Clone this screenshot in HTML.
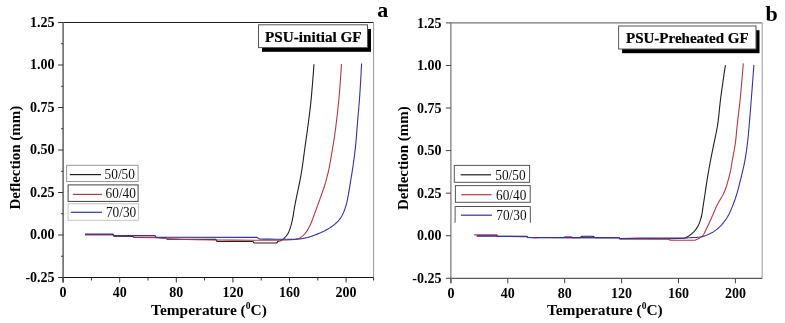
<!DOCTYPE html>
<html><head><meta charset="utf-8"><style>
html,body{margin:0;padding:0;background:#fff;width:785px;height:323px;overflow:hidden}
svg{display:block;font-family:"Liberation Serif", serif;will-change:transform}
</style></head><body>
<svg width="785" height="323" viewBox="0 0 785 323">
<rect width="785" height="323" fill="#fff"/>
<line x1="63.1" y1="22.5" x2="373.6" y2="22.5" stroke="#222" stroke-width="1"/>
<line x1="373.6" y1="22.5" x2="373.6" y2="277.5" stroke="#999" stroke-width="1"/>
<line x1="63.1" y1="277.5" x2="373.6" y2="277.5" stroke="#111" stroke-width="1"/>
<line x1="63.1" y1="22" x2="63.1" y2="282.5" stroke="#555" stroke-width="1.4"/>
<line x1="58.1" y1="22.5" x2="63.1" y2="22.5" stroke="#333" stroke-width="1"/>
<text x="54.6" y="26.5" font-size="14" font-weight="bold" text-anchor="end" fill="#000" >1.25</text>
<line x1="61.1" y1="43.75" x2="63.1" y2="43.75" stroke="#333" stroke-width="1"/>
<line x1="58.1" y1="65" x2="63.1" y2="65" stroke="#333" stroke-width="1"/>
<text x="54.6" y="69" font-size="14" font-weight="bold" text-anchor="end" fill="#000" >1.00</text>
<line x1="61.1" y1="86.25" x2="63.1" y2="86.25" stroke="#333" stroke-width="1"/>
<line x1="58.1" y1="107.5" x2="63.1" y2="107.5" stroke="#333" stroke-width="1"/>
<text x="54.6" y="111.5" font-size="14" font-weight="bold" text-anchor="end" fill="#000" >0.75</text>
<line x1="61.1" y1="128.75" x2="63.1" y2="128.75" stroke="#333" stroke-width="1"/>
<line x1="58.1" y1="150" x2="63.1" y2="150" stroke="#333" stroke-width="1"/>
<text x="54.6" y="154" font-size="14" font-weight="bold" text-anchor="end" fill="#000" >0.50</text>
<line x1="61.1" y1="171.25" x2="63.1" y2="171.25" stroke="#333" stroke-width="1"/>
<line x1="58.1" y1="192.5" x2="63.1" y2="192.5" stroke="#333" stroke-width="1"/>
<text x="54.6" y="196.5" font-size="14" font-weight="bold" text-anchor="end" fill="#000" >0.25</text>
<line x1="61.1" y1="213.75" x2="63.1" y2="213.75" stroke="#333" stroke-width="1"/>
<line x1="58.1" y1="235" x2="63.1" y2="235" stroke="#333" stroke-width="1"/>
<text x="54.6" y="239" font-size="14" font-weight="bold" text-anchor="end" fill="#000" >0.00</text>
<line x1="61.1" y1="256.25" x2="63.1" y2="256.25" stroke="#333" stroke-width="1"/>
<line x1="58.1" y1="277.5" x2="63.1" y2="277.5" stroke="#333" stroke-width="1"/>
<text x="54.6" y="281.5" font-size="14" font-weight="bold" text-anchor="end" fill="#000" >-0.25</text>
<line x1="63.1" y1="277.5" x2="63.1" y2="282.5" stroke="#333" stroke-width="1"/>
<text x="63.1" y="297" font-size="14" font-weight="bold" text-anchor="middle" fill="#000" >0</text>
<line x1="91.4" y1="277.5" x2="91.4" y2="280.5" stroke="#333" stroke-width="1"/>
<line x1="119.7" y1="277.5" x2="119.7" y2="282.5" stroke="#333" stroke-width="1"/>
<text x="119.7" y="297" font-size="14" font-weight="bold" text-anchor="middle" fill="#000" >40</text>
<line x1="148" y1="277.5" x2="148" y2="280.5" stroke="#333" stroke-width="1"/>
<line x1="176.3" y1="277.5" x2="176.3" y2="282.5" stroke="#333" stroke-width="1"/>
<text x="176.3" y="297" font-size="14" font-weight="bold" text-anchor="middle" fill="#000" >80</text>
<line x1="204.6" y1="277.5" x2="204.6" y2="280.5" stroke="#333" stroke-width="1"/>
<line x1="232.9" y1="277.5" x2="232.9" y2="282.5" stroke="#333" stroke-width="1"/>
<text x="232.9" y="297" font-size="14" font-weight="bold" text-anchor="middle" fill="#000" >120</text>
<line x1="261.2" y1="277.5" x2="261.2" y2="280.5" stroke="#333" stroke-width="1"/>
<line x1="289.5" y1="277.5" x2="289.5" y2="282.5" stroke="#333" stroke-width="1"/>
<text x="289.5" y="297" font-size="14" font-weight="bold" text-anchor="middle" fill="#000" >160</text>
<line x1="317.8" y1="277.5" x2="317.8" y2="280.5" stroke="#333" stroke-width="1"/>
<line x1="346.1" y1="277.5" x2="346.1" y2="282.5" stroke="#333" stroke-width="1"/>
<text x="346.1" y="297" font-size="14" font-weight="bold" text-anchor="middle" fill="#000" >200</text>
<line x1="373.6" y1="277.5" x2="373.6" y2="280.5" stroke="#333" stroke-width="1"/>
<text x="151" y="314.9" font-size="15.45" font-weight="bold" text-anchor="start" fill="#000" >Temperature (<tspan font-size="9.5" dy="-6">0</tspan><tspan dy="6">C)</tspan></text>
<text transform="translate(20.4,209.5) rotate(-90)" font-size="15" font-weight="bold" text-anchor="start">Deflection (mm)</text>
<rect x="262" y="29" width="109" height="22.8" fill="#000"/>
<rect x="258.5" y="24.8" width="109" height="22.8" fill="#fff" stroke="#555" stroke-width="1"/>
<text x="265" y="41.5" font-size="15.2" font-weight="bold" text-anchor="start" fill="#000" stroke="#000" stroke-width="0.2">PSU-initial GF</text>
<text x="377.3" y="16.7" font-size="22" font-weight="bold" text-anchor="start" fill="#000" >a</text>
<rect x="66.6" y="165.3" width="71.5" height="16.2" fill="#fff" stroke="#999" stroke-width="1"/>
<line x1="69.8" y1="174.6" x2="101" y2="174.6" stroke="#202020" stroke-width="1.2"/>
<text transform="translate(104.6,179.1) scale(1,1.13)" font-size="13.3" fill="#111">50/50</text>
<rect x="68.1" y="184.9" width="70" height="16.5" fill="#fff" stroke="#444" stroke-width="1"/>
<line x1="72.8" y1="194.4" x2="102" y2="194.4" stroke="#b23a46" stroke-width="1.2"/>
<text transform="translate(105.6,198.2) scale(1,1.13)" font-size="13.3" fill="#111">60/40</text>
<rect x="68.1" y="203.8" width="70.5" height="16.5" fill="#fff" stroke="#c4c4c4" stroke-width="1"/>
<line x1="70.9" y1="212.3" x2="102" y2="212.3" stroke="#35339e" stroke-width="1.2"/>
<text transform="translate(105.9,217.4) scale(1,1.13)" font-size="13.3" fill="#111">70/30</text>
<polyline points="85,234.6 113,234.6 114,236.2 133,236.4 134,237.4 166,237.8 167,239.2 216,239.4 217,241.5 253,241.5 254,243 276.8,243 278.09,241.19 278.33,241.17 278.69,241.13 279.13,241.07 279.61,240.99 280.11,240.89 280.58,240.76 281,240.6 281.47,240.36 281.94,240.07 282.42,239.73 282.89,239.37 283.36,238.97 283.82,238.56 284.27,238.13 284.7,237.7 285.15,237.23 285.6,236.74 286.03,236.24 286.45,235.71 286.86,235.16 287.26,234.6 287.64,234.01 288,233.4 288.39,232.68 288.75,231.92 289.1,231.14 289.42,230.33 289.73,229.5 290.03,228.64 290.32,227.78 290.6,226.9 290.91,225.89 291.2,224.85 291.47,223.79 291.73,222.7 291.98,221.6 292.23,220.48 292.47,219.35 292.7,218.2 292.95,216.91 293.18,215.59 293.4,214.24 293.62,212.88 293.83,211.5 294.04,210.13 294.26,208.76 294.5,207.4 294.74,206.07 294.98,204.78 295.23,203.51 295.48,202.23 295.74,200.92 296.01,199.56 296.3,198.13 296.6,196.6 297.08,194.27 297.61,191.76 298.17,189.12 298.76,186.37 299.35,183.55 299.93,180.69 300.49,177.83 301,175 301.5,172.02 301.96,169.06 302.4,166.09 302.83,163.09 303.25,160 303.68,156.82 304.12,153.49 304.6,150 305.3,144.95 306.06,139.54 306.86,133.85 307.67,127.98 308.47,122.03 309.24,116.09 309.96,110.25 310.6,104.6 311.18,98.89 311.76,92.45 312.33,85.74 312.86,79.21 313.32,73.33 313.68,68.57 313.92,65.37 314,64.2" fill="none" stroke="#202020" stroke-width="1.1" stroke-linejoin="round" />
<polyline points="85,234.6 113,234.6 114,235.9 133,236 134,237.3 155,237.4 165,238.5 185.38,239.57 197.02,239.75 213.7,239.96 233.21,240.15 253.31,240.25 271.79,240.2 286.43,239.94 295,239.4 295.9,239.26 296.64,239.13 297.26,238.99 297.79,238.85 298.26,238.68 298.71,238.49 299.18,238.27 299.7,238 300.31,237.65 300.92,237.26 301.52,236.82 302.11,236.35 302.69,235.86 303.24,235.35 303.78,234.82 304.3,234.3 304.78,233.78 305.24,233.25 305.67,232.71 306.09,232.15 306.5,231.57 306.9,230.97 307.3,230.35 307.7,229.7 308.19,228.87 308.67,228 309.14,227.09 309.61,226.14 310.07,225.18 310.52,224.19 310.96,223.2 311.4,222.2 311.86,221.09 312.32,219.96 312.76,218.8 313.19,217.62 313.62,216.44 314.04,215.25 314.47,214.07 314.9,212.9 315.33,211.74 315.76,210.58 316.19,209.41 316.61,208.25 317.04,207.09 317.46,205.93 317.88,204.76 318.3,203.6 318.72,202.44 319.13,201.28 319.55,200.11 319.96,198.95 320.37,197.79 320.78,196.63 321.19,195.46 321.6,194.3 322.01,193.15 322.41,192.03 322.81,190.92 323.21,189.8 323.61,188.66 324.01,187.49 324.4,186.28 324.8,185 325.3,183.32 325.8,181.56 326.3,179.75 326.8,177.88 327.29,175.96 327.78,174 328.25,172.01 328.7,170 329.2,167.64 329.68,165.21 330.14,162.72 330.59,160.19 331.03,157.64 331.46,155.07 331.88,152.52 332.3,150 332.71,147.54 333.11,145.14 333.5,142.76 333.89,140.36 334.27,137.92 334.65,135.41 335.02,132.78 335.4,130 335.91,126.04 336.43,121.8 336.95,117.35 337.46,112.77 337.96,108.13 338.44,103.51 338.89,98.97 339.3,94.6 339.67,90.25 340.05,85.36 340.42,80.28 340.76,75.34 341.06,70.9 341.29,67.3 341.44,64.88 341.5,64" fill="none" stroke="#b23a46" stroke-width="1.1" stroke-linejoin="round" />
<polyline points="85,234.1 113,234.1 114,235.6 155,235.6 156,237.3 257,237.4 259.48,239.03 263.46,239.09 269.22,239.16 276.06,239.23 283.27,239.26 290.13,239.23 295.94,239.12 300,238.9 301.07,238.79 301.98,238.67 302.79,238.54 303.51,238.4 304.2,238.25 304.88,238.08 305.6,237.9 306.4,237.7 307.4,237.45 308.41,237.17 309.44,236.88 310.49,236.57 311.55,236.23 312.63,235.88 313.71,235.5 314.8,235.1 316.06,234.62 317.35,234.12 318.65,233.59 319.97,233.03 321.29,232.45 322.61,231.83 323.91,231.18 325.2,230.5 326.56,229.74 327.95,228.94 329.35,228.1 330.73,227.22 332.07,226.32 333.36,225.4 334.58,224.45 335.7,223.5 336.57,222.69 337.39,221.88 338.16,221.05 338.89,220.21 339.58,219.35 340.24,218.44 340.88,217.5 341.5,216.5 342.19,215.28 342.83,213.98 343.45,212.61 344.03,211.2 344.57,209.77 345.08,208.33 345.56,206.9 346,205.5 346.38,204.2 346.72,202.91 347.02,201.63 347.29,200.35 347.54,199.05 347.79,197.73 348.04,196.38 348.3,195 348.6,193.37 348.9,191.68 349.19,189.95 349.48,188.2 349.76,186.43 350.04,184.67 350.32,182.92 350.6,181.2 350.87,179.58 351.13,178 351.39,176.44 351.65,174.88 351.91,173.3 352.17,171.67 352.44,169.98 352.7,168.2 353.05,165.76 353.42,163.19 353.79,160.5 354.16,157.75 354.52,154.95 354.87,152.13 355.2,149.34 355.5,146.6 355.77,143.93 356.01,141.29 356.24,138.67 356.44,136.03 356.65,133.37 356.85,130.66 357.07,127.88 357.3,125 357.6,121.45 357.91,117.77 358.24,114 358.57,110.15 358.9,106.26 359.22,102.35 359.52,98.45 359.8,94.6 360.08,90.31 360.39,85.39 360.69,80.23 360.97,75.19 361.22,70.62 361.42,66.91 361.55,64.41 361.6,63.5" fill="none" stroke="#35339e" stroke-width="1.1" stroke-linejoin="round" />
<line x1="450.9" y1="22.9" x2="762.2" y2="22.9" stroke="#777" stroke-width="1.4"/>
<line x1="762.2" y1="22.9" x2="762.2" y2="278.3" stroke="#999" stroke-width="1"/>
<line x1="450.9" y1="278.3" x2="762.2" y2="278.3" stroke="#333" stroke-width="1"/>
<line x1="450.9" y1="22.4" x2="450.9" y2="283.3" stroke="#888" stroke-width="1.4"/>
<line x1="445.9" y1="22.9" x2="450.9" y2="22.9" stroke="#444" stroke-width="1"/>
<text x="441.4" y="27.5" font-size="14" font-weight="bold" text-anchor="end" fill="#000" >1.25</text>
<line x1="445.9" y1="65.47" x2="450.9" y2="65.47" stroke="#444" stroke-width="1"/>
<text x="441.4" y="70.07" font-size="14" font-weight="bold" text-anchor="end" fill="#000" >1.00</text>
<line x1="445.9" y1="108.03" x2="450.9" y2="108.03" stroke="#444" stroke-width="1"/>
<text x="441.4" y="112.63" font-size="14" font-weight="bold" text-anchor="end" fill="#000" >0.75</text>
<line x1="445.9" y1="150.6" x2="450.9" y2="150.6" stroke="#444" stroke-width="1"/>
<text x="441.4" y="155.2" font-size="14" font-weight="bold" text-anchor="end" fill="#000" >0.50</text>
<line x1="445.9" y1="193.17" x2="450.9" y2="193.17" stroke="#444" stroke-width="1"/>
<text x="441.4" y="197.77" font-size="14" font-weight="bold" text-anchor="end" fill="#000" >0.25</text>
<line x1="445.9" y1="235.73" x2="450.9" y2="235.73" stroke="#444" stroke-width="1"/>
<text x="441.4" y="240.33" font-size="14" font-weight="bold" text-anchor="end" fill="#000" >0.00</text>
<line x1="445.9" y1="278.3" x2="450.9" y2="278.3" stroke="#444" stroke-width="1"/>
<text x="441.4" y="282.9" font-size="14" font-weight="bold" text-anchor="end" fill="#000" >-0.25</text>
<line x1="450.9" y1="278.3" x2="450.9" y2="283.3" stroke="#444" stroke-width="1"/>
<text x="450.9" y="297.8" font-size="14" font-weight="bold" text-anchor="middle" fill="#000" >0</text>
<line x1="507.8" y1="278.3" x2="507.8" y2="283.3" stroke="#444" stroke-width="1"/>
<text x="507.8" y="297.8" font-size="14" font-weight="bold" text-anchor="middle" fill="#000" >40</text>
<line x1="564.7" y1="278.3" x2="564.7" y2="283.3" stroke="#444" stroke-width="1"/>
<text x="564.7" y="297.8" font-size="14" font-weight="bold" text-anchor="middle" fill="#000" >80</text>
<line x1="621.6" y1="278.3" x2="621.6" y2="283.3" stroke="#444" stroke-width="1"/>
<text x="621.6" y="297.8" font-size="14" font-weight="bold" text-anchor="middle" fill="#000" >120</text>
<line x1="678.5" y1="278.3" x2="678.5" y2="283.3" stroke="#444" stroke-width="1"/>
<text x="678.5" y="297.8" font-size="14" font-weight="bold" text-anchor="middle" fill="#000" >160</text>
<line x1="735.4" y1="278.3" x2="735.4" y2="283.3" stroke="#444" stroke-width="1"/>
<text x="735.4" y="297.8" font-size="14" font-weight="bold" text-anchor="middle" fill="#000" >200</text>
<text x="546.9" y="314.9" font-size="15.45" font-weight="bold" text-anchor="start" fill="#000" >Temperature (<tspan font-size="9.5" dy="-6">0</tspan><tspan dy="6">C)</tspan></text>
<text transform="translate(408.2,210) rotate(-90)" font-size="15" font-weight="bold" text-anchor="start">Deflection (mm)</text>
<rect x="622.1" y="30.2" width="137.4" height="23" fill="#000"/>
<rect x="618.6" y="26" width="137.4" height="23" fill="#fff" stroke="#555" stroke-width="1"/>
<text x="626" y="43.3" font-size="15" font-weight="bold" text-anchor="start" fill="#000" stroke="#000" stroke-width="0.2">PSU-Preheated GF</text>
<text x="765.5" y="21.2" font-size="22" font-weight="bold" text-anchor="start" fill="#000" >b</text>
<rect x="454.3" y="165.4" width="75.3" height="16.9" fill="#fff" stroke="#555" stroke-width="1"/>
<line x1="460.6" y1="174.8" x2="491" y2="174.8" stroke="#202020" stroke-width="1.2"/>
<text transform="translate(495.3,180) scale(1,1.13)" font-size="13.3" fill="#111">50/50</text>
<rect x="455.4" y="185.6" width="74.8" height="16.7" fill="#fff" stroke="#555" stroke-width="1"/>
<line x1="461.3" y1="194.7" x2="491.6" y2="194.7" stroke="#b23a46" stroke-width="1.2"/>
<text transform="translate(496,199.9) scale(1,1.13)" font-size="13.3" fill="#111">60/40</text>
<polyline points="455.1,222.7 455.1,206.5 530.3,206.5 530.3,222.7" fill="none" stroke="#555" stroke-width="1"/>
<line x1="461" y1="215.2" x2="492" y2="215.2" stroke="#35339e" stroke-width="1.2"/>
<text transform="translate(496.3,220.1) scale(1,1.13)" font-size="13.3" fill="#111">70/30</text>
<polyline points="476.5,236 497,236 498,236.5 527,236.6 528,237.5 580,237.6 581.5,236.3 593,236.3 595,237.6 619,237.7 620,238.8 670,238.7 684.08,238.27 684.29,238.19 684.6,238.07 684.98,237.91 685.4,237.74 685.83,237.56 686.24,237.37 686.6,237.2 686.94,237.03 687.27,236.86 687.59,236.68 687.92,236.49 688.25,236.3 688.59,236.08 688.94,235.85 689.3,235.6 689.84,235.21 690.42,234.78 691.02,234.31 691.64,233.81 692.25,233.29 692.86,232.74 693.45,232.18 694,231.6 694.57,230.96 695.12,230.3 695.66,229.62 696.19,228.92 696.69,228.18 697.18,227.42 697.65,226.63 698.1,225.8 698.6,224.77 699.08,223.69 699.52,222.56 699.95,221.4 700.34,220.2 700.72,218.98 701.07,217.74 701.4,216.5 701.72,215.12 702,213.71 702.25,212.26 702.47,210.8 702.67,209.32 702.87,207.84 703.08,206.36 703.3,204.9 703.53,203.45 703.76,201.98 703.99,200.52 704.22,199.06 704.44,197.6 704.67,196.15 704.89,194.72 705.1,193.3 705.29,192.01 705.47,190.77 705.64,189.55 705.81,188.33 705.98,187.1 706.17,185.81 706.37,184.45 706.6,183 706.97,180.74 707.37,178.28 707.81,175.67 708.27,172.97 708.75,170.23 709.24,167.48 709.72,164.79 710.2,162.2 710.65,159.82 711.11,157.47 711.57,155.15 712.03,152.83 712.5,150.53 712.97,148.22 713.44,145.92 713.9,143.6 714.37,141.3 714.85,139.03 715.33,136.78 715.81,134.52 716.29,132.24 716.75,129.9 717.19,127.5 717.6,125 718.05,121.89 718.45,118.67 718.82,115.37 719.17,111.98 719.52,108.54 719.88,105.05 720.27,101.53 720.7,98 721.29,93.6 722,88.48 722.78,83.05 723.55,77.7 724.27,72.83 724.85,68.86 725.25,66.18 725.4,65.2" fill="none" stroke="#202020" stroke-width="1.1" stroke-linejoin="round" />
<polyline points="474.2,234.9 497,234.9 498,236.3 527,236.5 528,237.4 564,237.5 565,236.7 571.5,236.7 572.5,237.6 619,237.8 620,239 669,239.1 670,240.2 695,240.2 697.59,238.96 697.84,238.83 698.21,238.65 698.66,238.42 699.15,238.17 699.65,237.9 700.11,237.64 700.5,237.4 700.81,237.2 701.12,237 701.41,236.8 701.7,236.6 701.99,236.38 702.27,236.14 702.54,235.89 702.8,235.6 703.12,235.2 703.42,234.76 703.71,234.28 703.99,233.77 704.26,233.25 704.54,232.7 704.81,232.15 705.1,231.6 705.44,230.94 705.78,230.26 706.12,229.57 706.46,228.86 706.81,228.13 707.16,227.38 707.53,226.6 707.9,225.8 708.39,224.75 708.89,223.66 709.4,222.52 709.93,221.35 710.47,220.16 711.01,218.95 711.55,217.73 712.1,216.5 712.71,215.11 713.32,213.69 713.93,212.23 714.55,210.76 715.18,209.29 715.83,207.81 716.5,206.35 717.2,204.9 717.97,203.43 718.8,201.94 719.67,200.46 720.56,198.98 721.42,197.52 722.25,196.08 723.02,194.67 723.7,193.3 724.18,192.23 724.62,191.21 725.01,190.23 725.38,189.25 725.73,188.26 726.08,187.23 726.43,186.16 726.8,185 727.31,183.31 727.85,181.46 728.39,179.5 728.92,177.49 729.43,175.48 729.9,173.52 730.33,171.68 730.7,170 730.92,168.93 731.1,167.96 731.25,167.04 731.39,166.16 731.52,165.26 731.66,164.33 731.81,163.32 732,162.2 732.35,160.26 732.75,158.11 733.18,155.81 733.64,153.4 734.1,150.93 734.54,148.44 734.94,145.98 735.3,143.6 735.6,141.3 735.86,139.04 736.09,136.78 736.3,134.52 736.5,132.23 736.71,129.89 736.94,127.49 737.2,125 737.55,121.89 737.92,118.68 738.32,115.39 738.72,112.02 739.13,108.59 739.53,105.11 739.93,101.57 740.3,98 740.74,93.41 741.23,88.03 741.73,82.3 742.21,76.65 742.64,71.5 742.98,67.29 743.22,64.44 743.3,63.4" fill="none" stroke="#b23a46" stroke-width="1.1" stroke-linejoin="round" />
<polyline points="477,235.9 497,235.9 498,236.4 527,236.4 528,237.4 535,238 540,237.6 619,237.6 620,238.6 640,238.1 686.17,237.89 686.65,237.87 687.36,237.83 688.23,237.79 689.2,237.74 690.2,237.69 691.15,237.65 692,237.6 692.81,237.56 693.63,237.53 694.45,237.51 695.27,237.47 696.1,237.44 696.93,237.38 697.77,237.3 698.6,237.2 699.47,237.07 700.34,236.93 701.21,236.77 702.08,236.59 702.95,236.39 703.83,236.16 704.71,235.9 705.6,235.6 706.61,235.22 707.63,234.81 708.67,234.35 709.7,233.86 710.73,233.33 711.75,232.78 712.74,232.2 713.7,231.6 714.63,230.98 715.55,230.33 716.44,229.66 717.32,228.95 718.18,228.22 719.03,227.45 719.87,226.65 720.7,225.8 721.63,224.79 722.56,223.72 723.48,222.6 724.38,221.44 725.26,220.24 726.11,219.02 726.92,217.77 727.7,216.5 728.47,215.14 729.2,213.74 729.89,212.3 730.56,210.83 731.19,209.35 731.81,207.86 732.41,206.37 733,204.9 733.56,203.46 734.11,202 734.64,200.54 735.15,199.08 735.64,197.62 736.11,196.17 736.56,194.72 737,193.3 737.38,192.01 737.73,190.78 738.06,189.56 738.37,188.35 738.69,187.11 739,185.82 739.34,184.46 739.7,183 740.27,180.74 740.88,178.29 741.53,175.69 742.19,172.99 742.85,170.25 743.48,167.5 744.07,164.8 744.6,162.2 745.04,159.83 745.45,157.49 745.82,155.16 746.17,152.85 746.5,150.54 746.81,148.23 747.11,145.92 747.4,143.6 747.67,141.3 747.92,139.04 748.15,136.78 748.36,134.52 748.57,132.23 748.77,129.9 748.98,127.49 749.2,125 749.47,121.88 749.75,118.67 750.02,115.36 750.29,111.99 750.57,108.55 750.85,105.06 751.12,101.54 751.4,98 751.74,93.57 752.14,88.41 752.55,82.93 752.96,77.52 753.33,72.61 753.62,68.6 753.83,65.89 753.9,64.9" fill="none" stroke="#35339e" stroke-width="1.1" stroke-linejoin="round" />
</svg>
</body></html>
